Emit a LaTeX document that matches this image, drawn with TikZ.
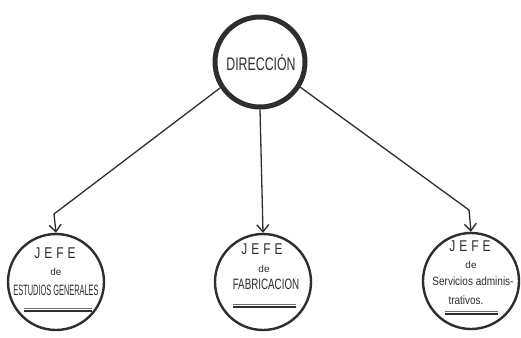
\documentclass[tikz,border=0pt]{standalone}
\usepackage{fontspec}
\setmainfont{Liberation Sans}
\usetikzlibrary{arrows.meta}
\definecolor{ink}{HTML}{2E2E2E}
\begin{document}
\begin{tikzpicture}[x=1pt,y=-1pt,
  boss/.style={circle, draw=ink, line width=5pt, minimum size=90pt, inner sep=0pt},
  chief/.style={circle, draw=ink, line width=2.4pt, minimum size=96pt, inner sep=0pt},
  lbl/.style={text=ink, inner sep=0pt, align=center},
  conn/.style={draw=ink, line width=1.3pt, -{Straight Barb[length=7pt,width=12pt,line width=1.4pt]}},
  uline/.style={draw=ink, line width=1.8pt},
  uthin/.style={draw=ink!70, line width=0.7pt}]
\fill[white] (0,0) rectangle (521,337);
\useasboundingbox (0,0) rectangle (521,337);
% nodes
\node[boss] (dir) at (260,62) {};
\node[lbl, font=\fontsize{13}{13}\selectfont] (dirt) at (261,63) {\scalebox{0.95}[1.4]{DIRECCIÓN}};
\node[chief] (est) at (56,282) {};
\node[chief] (fab) at (263,282) {};
\node[chief] (adm) at (471,281) {};
% texts
\node[lbl, font=\fontsize{12}{12}\selectfont] (estj) at (55,253) {\scalebox{1}[1.3]{J\,\,E\,\,F\,\,E}};
\node[lbl, font=\fontsize{10}{10}\selectfont] (estd) at (56,272) {de};
\node[lbl, font=\fontsize{10}{10}\selectfont] (estn) at (56,290) {\scalebox{0.74}[1.5]{ESTUDIOS GENERALES}};
\node[lbl, font=\fontsize{12}{12}\selectfont] (fabj) at (262,249) {\scalebox{1}[1.3]{J\,\,E\,\,F\,\,E}};
\node[lbl, font=\fontsize{10}{10}\selectfont] (fabd) at (264,269) {de};
\node[lbl, font=\fontsize{10}{10}\selectfont] (fabn) at (266,284) {\scalebox{0.98}[1.5]{FABRICACION}};
\node[lbl, font=\fontsize{12}{12}\selectfont] (admj) at (470,246) {\scalebox{1}[1.3]{J\,\,E\,\,F\,\,E}};
\node[lbl, font=\fontsize{10}{10}\selectfont] (admd) at (471,265) {de};
\node[lbl, font=\fontsize{10}{10}\selectfont] (admn) at (473,281) {\scalebox{1.0}[1.2]{Servicios adminis-}};
\node[lbl, font=\fontsize{10}{10}\selectfont] (admt) at (466,300) {\scalebox{1.0}[1.2]{trativos.}};
% underlines
\coordinate (u1a) at (24,311); \coordinate (u1b) at (92,311);
\draw[uline] (u1a) -- (u1b);
\draw[uthin] ([yshift=2.5pt]u1a) -- ([yshift=2.5pt]u1b);
\coordinate (u2a) at (233,307); \coordinate (u2b) at (296,307);
\draw[uline] (u2a) -- (u2b);
\draw[uthin] ([yshift=2.5pt]u2a) -- ([yshift=2.5pt]u2b);
\coordinate (u3a) at (445,314); \coordinate (u3b) at (498,314);
\draw[uline] (u3a) -- (u3b);
\draw[uthin] ([yshift=2.5pt]u3a) -- ([yshift=2.5pt]u3b);
% connectors
\coordinate (b1) at (54,214);
\coordinate (b3) at (469,210);
\draw[conn] (dir.213) -- (b1) -- (est.north);
\draw[conn] (dir.south) -- (fab.north);
\draw[conn] (dir.-32) -- (b3) -- (adm.north);
\end{tikzpicture}
\end{document}
